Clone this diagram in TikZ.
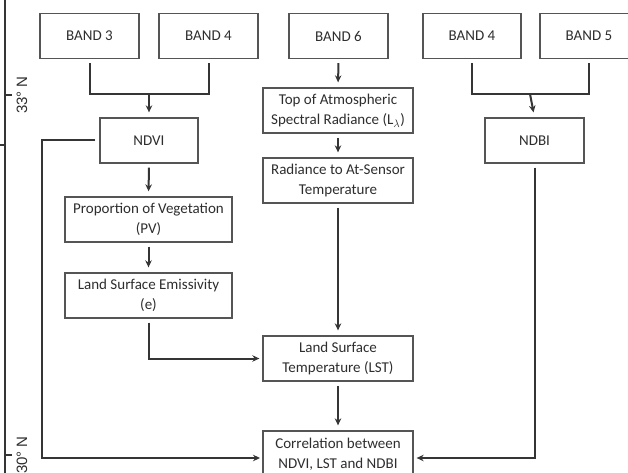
\documentclass[tikz,border=0pt]{standalone}
\usepackage{fontspec}
\setmainfont{Carlito}
\newfontfamily\mapfont{Liberation Sans}
\usetikzlibrary{arrows.meta}
\definecolor{txtgray}{HTML}{2E2E2E}
\definecolor{boxgray}{HTML}{555555}
\definecolor{linegray}{HTML}{353535}
\tikzset{
  box/.style={draw=boxgray, line width=1.3pt, fill=white, inner sep=2pt,
    minimum height=45pt, align=center, text=txtgray,
    font=\fontsize{15}{20}\selectfont},
  link/.style={draw=linegray, line width=2pt, shorten <=4pt},
  flow/.style={link, -{Stealth[length=7pt,width=6.5pt]}, shorten >=5pt},
}
\begin{document}
\begin{tikzpicture}[x=1pt, y=-1pt]
  \useasboundingbox (0,0) rectangle (628,473);

  % map frame at the left edge
  \draw[line width=1.6pt, linegray] (5,0) -- (5,473);
  \draw[line width=1.3pt, linegray] (5,95) -- (12,95);
  \draw[line width=1.3pt, linegray] (5,455) -- (12,455);
  \draw[line width=1.3pt, linegray] (0,145) -- (5,145);
  \node[rotate=90, text=txtgray, font=\mapfont\fontsize{15}{18}\selectfont] (lat33) at (22,95) {33° N};
  \node[rotate=90, text=txtgray, font=\mapfont\fontsize{15}{18}\selectfont] (lat30) at (22,455) {30° N};

  % input bands
  \node[box, minimum width=99pt] (band3) at (89.5,36) {BAND 3};
  \node[box, minimum width=99pt] (band4a) at (208.5,36) {BAND 4};
  \node[box, minimum width=99pt] (band6) at (338.5,36) {BAND 6};
  \node[box, minimum width=98pt] (band4b) at (472,36) {BAND 4};
  \node[box, minimum width=98pt] (band5) at (589,36) {BAND 5};

  % indices and steps
  \node[box, minimum width=98pt] (ndvi) at (149,140.5) {NDVI};
  \node[box, minimum width=167pt] (pv) at (148.5,219.5) {Proportion of Vegetation\\(PV)};
  \node[box, minimum width=167pt] (lse) at (148.5,295.5) {Land Surface Emissivity\\(e)};
  \node[box, minimum width=150pt] (toa) at (338,110.5) {Top of Atmospheric\\Spectral Radiance (L$_\lambda$)};
  \node[box, minimum width=150pt] (rad) at (338,180.5) {Radiance to At-Sensor\\Temperature};
  \node[box, minimum width=150pt] (lst) at (338,358.5) {Land Surface\\Temperature (LST)};
  \node[box, minimum width=150pt, minimum height=46pt] (corr) at (338,454) {Correlation between\\NDVI, LST and NDBI};
  \node[box, minimum width=99pt] (ndbi) at (534.5,140.5) {NDBI};

  \coordinate (jndvi) at (149,94);
  \coordinate (jndbi) at (530,94);
  \coordinate (ndvileft) at (42,140.5);
  \coordinate (corrin) at (263,458);

  % connectors
  \draw[link, shorten >=4pt] (band3.south) |- (jndvi) -| (band4a.south);
  \draw[flow, shorten <=0pt] (jndvi) -- (ndvi.north);
  \draw[flow] (ndvi.south) -- (pv.north);
  \draw[flow] (pv.south) -- (lse.north);
  \draw[flow, shorten >=3pt] (lse.south) |- (lst.west);

  \draw[flow] (band6.south) -- (toa.north);
  \draw[flow] (toa.south) -- (rad.north);
  \draw[flow] (rad.south) -- (lst.north);
  \draw[flow] (lst.south) -- (corr.north);

  \draw[link, shorten >=4pt] (band4b.south) |- (jndbi) -| (band5.south);
  \draw[flow, shorten <=0pt] (jndbi) -- (ndbi.north);

  \draw[flow, shorten >=3pt] (ndvi.west) -- (ndvileft) |- (corrin);
  \draw[flow, shorten >=3pt] (ndbi.south) |- (corr.east |- corrin);
\end{tikzpicture}
\end{document}
